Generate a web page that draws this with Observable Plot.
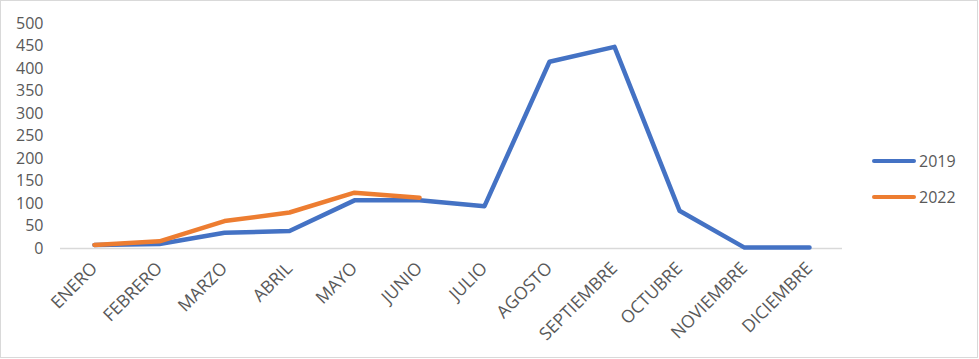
<!DOCTYPE html>
<html>
<head>
<meta charset="utf-8">
<script src="https://cdn.jsdelivr.net/npm/d3@7"></script>
<script src="https://cdn.jsdelivr.net/npm/@observablehq/plot@0.6"></script>
<style>
  html, body { margin: 0; padding: 0; background: #fff; }
  #wrap { position: relative; width: 979px; height: 359px; overflow: hidden; font-family: "Open Sans", sans-serif; }
  #frame { position: absolute; left: 0; top: 0; width: 976px; height: 356px; border: 1px solid #d9d9d9; pointer-events: none; }
  .leg { position: absolute; left: 872px; display: flex; align-items: center; font-size: 16px; color: #595959; }
  .leg span.sw { display: inline-block; width: 44px; height: 4.5px; border-radius: 3px; margin-right: 3px; }
</style>
</head>
<body>
<div id="wrap"><div id="chart"></div><div id="frame"></div></div>
<script>
const months = ["ENERO","FEBRERO","MARZO","ABRIL","MAYO","JUNIO","JULIO","AGOSTO","SEPTIEMBRE","OCTUBRE","NOVIEMBRE","DICIEMBRE"];
const series = ["2019", "2022"];
const colors = ["#4472C4", "#ED7D31"];
const values2019 = [8, 10, 35, 39, 107, 107, 94, 415, 448, 84, 2, 2];
const values2022 = [8, 16, 61, 80, 124, 113];
const yTicks = [0, 50, 100, 150, 200, 250, 300, 350, 400, 450, 500];

const data = [
  ...values2019.map((v, i) => ({month: months[i], value: v, series: series[0]})),
  ...values2022.map((v, i) => ({month: months[i], value: v, series: series[1]}))
];

const chart = Plot.plot({
  width: 979,
  height: 359,
  marginLeft: 60,
  marginRight: 137,
  marginTop: 23,
  marginBottom: 111,
  style: {fontFamily: "Open Sans, sans-serif", fontSize: "16px", color: "#595959", background: "transparent", overflow: "visible"},
  x: {type: "point", domain: months, padding: 0.5, label: null},
  y: {domain: [0, 500], label: null},
  color: {domain: series, range: colors},
  marks: [
    Plot.axisY({ticks: yTicks, tickSize: 0, tickPadding: 17, label: null, fontSize: 16}),
    Plot.axisX({tickSize: 0, tickRotate: -45, tickPadding: 17, label: null, fontSize: 17.5}),
    Plot.ruleY([0], {stroke: "#d9d9d9", strokeWidth: 1.5}),
    Plot.line(data, {x: "month", y: "value", z: "series", stroke: "series", strokeWidth: 4.5, strokeLinecap: "round", strokeLinejoin: "round"})
  ]
});
document.getElementById("chart").appendChild(chart);

const wrap = document.getElementById("wrap");
const legTops = [161, 197];
series.forEach((s, i) => {
  const d = document.createElement("div");
  d.className = "leg";
  d.style.top = (legTops[i] - 11) + "px";
  d.style.height = "22px";
  d.innerHTML = `<span class="sw" style="background:${colors[i]}"></span>${s}`;
  wrap.appendChild(d);
});
</script>
</body>
</html>
